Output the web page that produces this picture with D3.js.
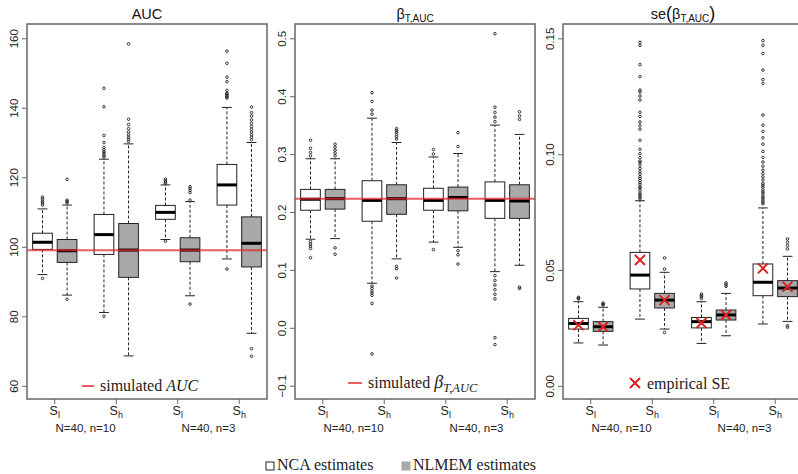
<!DOCTYPE html>
<html>
<head>
<meta charset="utf-8">
<script src="https://cdn.jsdelivr.net/npm/d3@7"></script>
<style>
  body { margin: 0; background: #fff; }
  svg { display: block; }
</style>
</head>
<body>
<div id="chart"></div>
<script>
// categories: box order is design x scenario x method
const designs = ["N=40, n=10", "N=40, n=3"];
const scenarios = ["l", "h"];
const methods = ["NCA", "NLMEM"];

// [lower whisker, q1, median, q3, upper whisker]
const aucBoxes = [
  [92.0, 99.25, 101.3, 103.9, 110.9],
  [86.1, 95.5, 98.85, 102.1, 112.0],
  [81.1, 97.8, 103.5, 109.3, 125.2],
  [68.6, 91.2, 99.05, 106.7, 129.6],
  [102.1, 107.9, 109.9, 111.9, 117.8],
  [85.9, 95.7, 99.05, 102.6, 113.0],
  [96.5, 112.0, 117.8, 123.7, 140.1],
  [75.1, 94.2, 101.0, 108.6, 130.0]
];
const aucOutliers = [
  [112.0, 112.6, 113.1, 113.7, 114.3, 90.9],
  [112.6, 113.0, 113.4, 119.4, 84.9],
  [125.8, 126.3, 126.8, 127.3, 127.9, 128.6, 130.0, 132.0, 140.3, 145.6, 80.0],
  [130.3, 130.9, 131.5, 132.2, 133.0, 134.0, 135.2, 136.7, 158.4],
  [118.2, 118.6, 119.0, 119.5, 101.6],
  [113.4, 115.6, 116.2, 116.8, 117.3, 83.5],
  [142.8, 143.1, 143.5, 143.9, 144.2, 145.0, 147.5, 148.8, 152.8, 156.3, 93.6],
  [130.8, 131.5, 132.2, 133.0, 133.8, 134.6, 135.5, 136.5, 137.6, 138.6, 140.2, 70.7, 68.5]
];
const aucSimulated = 99.0;
const aucTicks = [60, 80, 100, 120, 140, 160];

const betaBoxes = [
  [0.153, 0.203, 0.222, 0.239, 0.292],
  [0.154, 0.205, 0.223, 0.239, 0.292],
  [0.077, 0.184, 0.220, 0.254, 0.362],
  [0.119, 0.196, 0.223, 0.247, 0.320],
  [0.148, 0.203, 0.220, 0.241, 0.295],
  [0.139, 0.202, 0.225, 0.243, 0.301],
  [0.097, 0.189, 0.220, 0.252, 0.350],
  [0.108, 0.189, 0.219, 0.247, 0.334]
];
const betaOutliers = [
  [0.297, 0.303, 0.310, 0.324, 0.149, 0.145, 0.141, 0.137, 0.121],
  [0.297, 0.302, 0.307, 0.312, 0.317, 0.138, 0.127],
  [0.369, 0.376, 0.391, 0.406, 0.072, 0.068, 0.064, 0.060, 0.056, 0.042, -0.045],
  [0.326, 0.330, 0.334, 0.338, 0.341, 0.344, 0.106, 0.102, 0.086],
  [0.300, 0.308, 0.135],
  [0.313, 0.337, 0.133, 0.126, 0.110],
  [0.356, 0.364, 0.372, 0.381, 0.508, 0.090, 0.082, 0.074, 0.066, 0.058, 0.050, -0.017, -0.029],
  [0.360, 0.366, 0.373, 0.070, 0.068]
];
const betaSimulated = 0.223;
const betaTicks = [-0.1, 0.0, 0.1, 0.2, 0.3, 0.4, 0.5];

const seBoxes = [
  [0.0185, 0.0245, 0.0269, 0.0291, 0.0363],
  [0.0176, 0.0235, 0.0255, 0.0277, 0.0339],
  [0.0288, 0.0418, 0.0478, 0.0576, 0.0799],
  [0.0245, 0.0336, 0.0370, 0.0399, 0.0490],
  [0.0183, 0.0250, 0.0277, 0.0295, 0.0363],
  [0.0216, 0.0284, 0.0306, 0.0327, 0.0399],
  [0.0267, 0.0389, 0.0447, 0.0526, 0.0768],
  [0.0278, 0.0385, 0.0422, 0.0454, 0.0559]
];
const seOutliers = [
  [0.0375, 0.0379, 0.0382],
  [0.0349, 0.0353, 0.0357],
  [0.0808, 0.0815, 0.0824, 0.0831, 0.0843, 0.0852, 0.0858, 0.0869, 0.0877, 0.0886, 0.0895, 0.0903,
   0.0916, 0.0925, 0.0938, 0.0951, 0.0963, 0.0970, 0.0985, 0.1002, 0.1021, 0.1060, 0.1108, 0.1124,
   0.1139, 0.1163, 0.1181, 0.1234, 0.1251, 0.1268, 0.1277, 0.1335, 0.1387, 0.1470, 0.1483],
  [0.0504, 0.0552, 0.0230],
  [0.0377, 0.0384, 0.0390, 0.0396],
  [0.0429, 0.0436, 0.0444],
  [0.0786, 0.0793, 0.0802, 0.0811, 0.0818, 0.0829, 0.0837, 0.0846, 0.0858, 0.0866, 0.0874, 0.0889,
   0.0902, 0.0916, 0.0931, 0.0948, 0.0966, 0.0986, 0.1012, 0.1043, 0.1071, 0.1098, 0.1125, 0.1169,
   0.1305, 0.1322, 0.1363, 0.1435, 0.1470, 0.1490],
  [0.0591, 0.0606, 0.0620, 0.0634, 0.0260, 0.0253]
];
const seEmpirical = [0.0262, 0.0255, 0.0543, 0.0370, 0.0271, 0.0306, 0.0507, 0.0428];
const seTicks = [0.00, 0.05, 0.10, 0.15];

const width = 798;
const height = 474;
const plotTop = 24, plotBottom = 399, panelW = 240;
const frameColor = "#666";
const redLine = "rgba(225, 40, 40, 0.75)";

const svg = d3.select("#chart").append("svg")
  .attr("width", width).attr("height", height)
  .style("font-family", "'Liberation Sans', Arial, sans-serif");

// box slot positions: 1, 2, 3.5, 4.5, 6, 7, 8.5, 9.5
const slots = [];
designs.forEach((d, di) => scenarios.forEach((s, si) => methods.forEach((m, mi) => {
  slots.push({ pos: 1 + (di * 2 + si) * 2.5 + mi, method: m });
})));

function cross(g, cx, cy, r) {
  g.append("path").attr("d", `M${cx - r},${cy - r}L${cx + r},${cy + r}M${cx - r},${cy + r}L${cx + r},${cy - r}`)
    .attr("stroke", "#dd2020").attr("stroke-width", 2);
}

function drawPanel(cfg) {
  const x0 = cfg.left;
  const g = svg.append("g");
  const x = d3.scaleLinear().domain([0.37, 10.13]).range([x0, x0 + panelW]);
  const y = d3.scaleLinear().domain(cfg.domain).range([plotBottom, plotTop]);
  const bw = x(0.8) - x(0);

  // y axis
  const yAxis = g.append("g").attr("transform", `translate(${x0},0)`)
    .call(d3.axisLeft(y).tickValues(cfg.ticks).tickSize(5).tickFormat(cfg.fmt));
  yAxis.select(".domain").remove();
  yAxis.selectAll(".tick line").attr("stroke", frameColor);
  yAxis.selectAll(".tick text")
    .attr("x", null).attr("dy", null)
    .attr("transform", "translate(-9,0) rotate(-90)")
    .attr("text-anchor", "middle")
    .attr("font-size", 11.5).attr("fill", "#222")
    .attr("font-family", "'Liberation Sans', Arial, sans-serif");

  // x axis ticks at scenario centres
  const centres = [1.5, 4, 6.5, 9];
  centres.forEach((c, i) => {
    g.append("line").attr("x1", x(c)).attr("x2", x(c))
      .attr("y1", plotBottom).attr("y2", plotBottom + 5).attr("stroke", frameColor);
    const t = g.append("text").attr("x", x(c)).attr("y", 415)
      .attr("text-anchor", "middle").attr("font-size", 12.5).attr("fill", "#222");
    t.append("tspan").text("S");
    t.append("tspan").attr("font-size", 9).attr("dy", 3).text(scenarios[i % 2]);
  });
  designs.forEach((d, i) => {
    g.append("text").attr("x", x(2.75 + i * 5)).attr("y", 432)
      .attr("text-anchor", "middle").attr("font-size", 11.5).attr("fill", "#222")
      .text(d);
  });

  // boxes
  slots.forEach((s, i) => {
    const [lo, q1, med, q3, hi] = cfg.boxes[i];
    const cx = x(s.pos);
    const bg = g.append("g");
    bg.append("line").attr("x1", cx).attr("x2", cx).attr("y1", y(q3)).attr("y2", y(hi))
      .attr("stroke", "#222").attr("stroke-dasharray", "3,2");
    bg.append("line").attr("x1", cx).attr("x2", cx).attr("y1", y(q1)).attr("y2", y(lo))
      .attr("stroke", "#222").attr("stroke-dasharray", "3,2");
    [lo, hi].forEach(v => {
      bg.append("line").attr("x1", cx - bw / 4).attr("x2", cx + bw / 4)
        .attr("y1", y(v)).attr("y2", y(v)).attr("stroke", "#222");
    });
    bg.append("rect").attr("x", cx - bw / 2).attr("width", bw)
      .attr("y", y(q3)).attr("height", y(q1) - y(q3))
      .attr("fill", s.method === "NCA" ? "#fff" : "#a9a9a9")
      .attr("stroke", "#222").attr("stroke-width", 1);
    bg.append("line").attr("x1", cx - bw / 2).attr("x2", cx + bw / 2)
      .attr("y1", y(med)).attr("y2", y(med)).attr("stroke", "#000").attr("stroke-width", 3);
    bg.selectAll("circle").data(cfg.outliers[i]).enter().append("circle")
      .attr("cx", cx).attr("cy", d => y(d)).attr("r", 1.3)
      .attr("fill", "none").attr("stroke", "#222").attr("stroke-width", 0.9);
  });

  if (cfg.ref !== undefined) {
    g.append("line").attr("x1", x0).attr("x2", x0 + panelW)
      .attr("y1", y(cfg.ref)).attr("y2", y(cfg.ref))
      .attr("stroke", redLine).attr("stroke-width", 2);
  }
  if (cfg.emp) {
    slots.forEach((s, i) => cross(g, x(s.pos), y(cfg.emp[i]), 5));
  }

  // frame
  g.append("rect").attr("x", x0).attr("y", plotTop).attr("width", panelW).attr("height", plotBottom - plotTop)
    .attr("fill", "none").attr("stroke", frameColor).attr("stroke-width", 1.5);

  // title
  cfg.title(g.append("text").attr("x", x0 + panelW / 2).attr("y", 19)
    .attr("text-anchor", "middle").attr("font-size", 14.5).attr("fill", "#111"));

  // in-panel legend
  cfg.legend(g, x0);
}

function betaSub(t, size) {
  t.append("tspan").text("β");
  t.append("tspan").attr("font-size", size).attr("dy", 3).text("T,AUC");
}

drawPanel({
  left: 27, domain: [56.2, 164.1], ticks: aucTicks, fmt: d3.format("d"),
  boxes: aucBoxes, outliers: aucOutliers, ref: aucSimulated,
  title: t => t.text("AUC"),
  legend: (g, x0) => {
    g.append("line").attr("x1", x0 + 55).attr("x2", x0 + 67).attr("y1", 386).attr("y2", 386)
      .attr("stroke", redLine).attr("stroke-width", 2);
    const t = g.append("text").attr("x", x0 + 73).attr("y", 391)
      .attr("font-family", "'Liberation Serif', serif").attr("font-size", 16).attr("fill", "#222");
    t.append("tspan").text("simulated ");
    t.append("tspan").attr("font-style", "italic").text("AUC");
  }
});

drawPanel({
  left: 295, domain: [-0.123, 0.5247], ticks: betaTicks, fmt: d3.format(".1f"),
  boxes: betaBoxes, outliers: betaOutliers, ref: betaSimulated,
  title: t => betaSub(t, 10),
  legend: (g, x0) => {
    g.append("line").attr("x1", x0 + 53).attr("x2", x0 + 67).attr("y1", 383).attr("y2", 383)
      .attr("stroke", redLine).attr("stroke-width", 2);
    const t = g.append("text").attr("x", x0 + 73).attr("y", 388)
      .attr("font-family", "'Liberation Serif', serif").attr("font-size", 16).attr("fill", "#222");
    t.append("tspan").text("simulated ");
    t.append("tspan").attr("font-style", "italic").attr("font-size", 18).text("β");
    t.append("tspan").attr("font-style", "italic").attr("font-size", 12.5).attr("dy", 4).text("T,AUC");
  }
});

drawPanel({
  left: 563, domain: [-0.0057, 0.1562], ticks: seTicks, fmt: d3.format(".2f"),
  boxes: seBoxes, outliers: seOutliers, emp: seEmpirical,
  title: t => {
    t.append("tspan").text("se");
    t.append("tspan").attr("font-size", 18).text("(");
    betaSub(t, 10);
    t.append("tspan").attr("font-size", 18).attr("dy", -3).text(")");
  },
  legend: (g, x0) => {
    cross(g, x0 + 72, 383, 5);
    g.append("text").attr("x", x0 + 84).attr("y", 389)
      .attr("font-family", "'Liberation Serif', serif").attr("font-size", 16).attr("fill", "#222")
      .text("empirical SE");
  }
});

// bottom legend
const leg = svg.append("g").style("font-family", "'Liberation Serif', serif");
const legItems = [
  { label: "NCA estimates", fill: "#fff", x: 266 },
  { label: "NLMEM estimates", fill: "#a9a9a9", x: 402 }
];
legItems.forEach(d => {
  leg.append("rect").attr("x", d.x).attr("y", 462).attr("width", 8).attr("height", 8)
    .attr("fill", d.fill).attr("stroke", d.fill === "#fff" ? "#222" : "#a9a9a9");
  leg.append("text").attr("x", d.x + 11).attr("y", 470).attr("font-size", 16).attr("fill", "#222")
    .text(d.label);
});
</script>
</body>
</html>
